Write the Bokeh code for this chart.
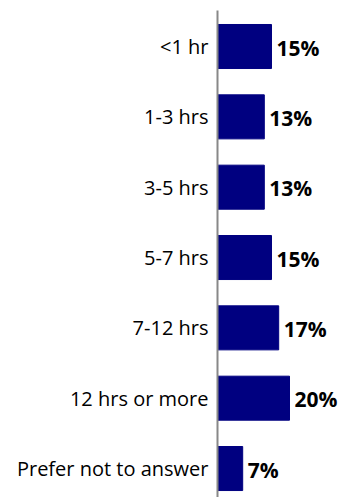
from bokeh.plotting import figure
from bokeh.models import Range1d, FixedTicker, ColumnDataSource
from bokeh.core.properties import value
from bokeh.embed import file_html
from bokeh.resources import INLINE

# Hours per week spent, share of respondents
categories = ["<1 hr", "1-3 hrs", "3-5 hrs", "5-7 hrs", "7-12 hrs", "12 hrs or more", "Prefer not to answer"]
shares = [15, 13, 13, 15, 17, 20, 7]

positions = list(range(len(categories)))
source = ColumnDataSource(dict(
    y=positions,
    share=shares,
    label=[f"{s}%" for s in shares],
))

p = figure(
    width=343, height=497,
    x_range=Range1d(0, 35),
    y_range=Range1d(6.412, -0.512),
    output_backend="svg", toolbar_location=None,
    min_border_left=217, min_border_right=0,
    min_border_top=10, min_border_bottom=0,
)

p.hbar(y="y", right="share", left=0, height=0.626, source=source,
       fill_color="#000080", line_color="#000080")

p.text(x="share", y="y", text="label", source=source,
       x_offset=5, y_offset=1, text_baseline="middle", text_align="left",
       text_font=value("Open Sans"), text_font_size="21px", text_font_style="bold",
       text_color="#000000")

p.xaxis.visible = False
p.grid.visible = False
p.outline_line_color = None

yax = p.yaxis[0]
yax.ticker = FixedTicker(ticks=positions)
yax.major_label_overrides = {i: c for i, c in enumerate(categories)}
yax.major_label_text_font = "Open Sans"
yax.major_label_text_font_size = "20px"
yax.major_label_text_color = "#000000"
yax.major_label_standoff = 9
yax.major_tick_in = 0
yax.major_tick_out = 0
yax.minor_tick_in = 0
yax.minor_tick_out = 0
yax.axis_line_color = "#888888"
yax.axis_line_width = 2

open("out.html", "w").write(file_html(p, INLINE))
